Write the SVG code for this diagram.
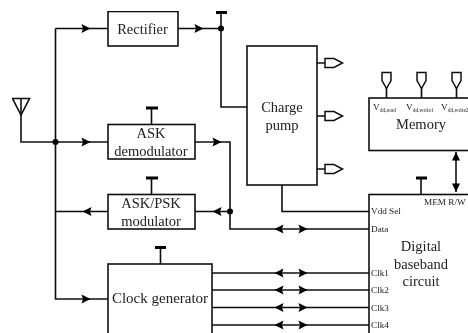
<svg xmlns="http://www.w3.org/2000/svg" width="468" height="333" viewBox="0 0 468 333">
<style>
.b{fill:#fff;stroke:#111;stroke-width:1.6}
.c{fill:none;stroke:#111;stroke-width:1.6}
.cap{fill:none;stroke:#000;stroke-width:2.8}
.t{font-family:"Liberation Serif",serif;font-size:14.500px;fill:#222;text-anchor:middle}
.s{font-family:"Liberation Serif",serif;font-size:9.200px;fill:#222}
.u{font-size:5.500px}
.o{fill:#fff;stroke:#111;stroke-width:1.500}
</style>
<defs>
<filter id="soft" x="0" y="0" width="100%" height="100%"><feGaussianBlur stdDeviation="0.3"/></filter>
<path id="r" d="M-4.500,-4.500 L4.500,0 L-4.500,4.500 L-3,0 Z" fill="#000"/>
<path id="l" d="M4.500,-4.500 L-4.500,0 L4.500,4.500 L3,0 Z" fill="#000"/>
<g id="dbl"><use href="#l" x="279"/><use href="#r" x="303"/></g>
<path id="out" d="M0,0 H8 M8,-4.500 H17 L25.500,0 L17,4.500 H8 Z" class="o"/>
<path id="vin" d="M-4.500,0 H4.500 V8 L0,16 L-4.500,8 Z" class="o"/>
</defs>
<rect width="468" height="333" fill="#fff"/>
<g filter="url(#soft)">
<g id="connectors">
<path class="c" d="M21,98.500 V142 H108 M55.500,28.500 V299 H108 M55.500,28.500 H108 M55.500,211.500 H108"/>
<path class="c" d="M178,28.500 H221 M221,12 V107 H247"/>
<path class="c" d="M195,142 H230 V229 H369 M195,211.500 H230"/>
<path class="c" d="M212,273 H369 M212,290 H369 M212,307.500 H369 M212,325 H369"/>
<path class="c" d="M282,185 V211.500 H369 M456,152 V192"/>
<path class="c" d="M151.500,108 V124.500 M151.500,178 V194.500 M160.500,247.500 V264 M421,178 V194"/>
<path class="cap" d="M216,12.500 H227 M146,108 H158 M146,178 H158 M155,247.500 H166 M416,178 H427"/>
<circle cx="55.500" cy="142" r="3" fill="#000"/>
<circle cx="221" cy="28.500" r="3" fill="#000"/>
<circle cx="230" cy="211.500" r="3" fill="#000"/>
<use href="#r" x="86" y="28.500"/><use href="#r" x="199" y="28.500"/>
<use href="#r" x="86" y="142"/><use href="#r" x="217" y="142"/>
<use href="#l" x="87" y="211.500"/><use href="#l" x="217" y="211.500"/>
<use href="#r" x="86" y="299"/>
<use href="#dbl" y="229"/><use href="#dbl" y="273"/><use href="#dbl" y="290"/><use href="#dbl" y="307.500"/><use href="#dbl" y="325"/>
<path d="M452,160.500 L456,152 L460,160.500 Z" fill="#000"/>
<path d="M452,183.500 L456,192 L460,183.500 Z" fill="#000"/>
<use href="#out" x="317" y="63"/><use href="#out" x="317" y="116"/><use href="#out" x="317" y="169"/>
</g>
<g id="antenna"><path class="c" d="M12.500,98.500 H29.500 L21,115 Z"/></g>
<g id="rectifier"><rect class="b" x="108" y="11.500" width="70" height="34.500"/><text class="t" x="142.500" y="33.500">Rectifier</text></g>
<g id="charge-pump"><rect class="b" x="247" y="46" width="70" height="139"/><text class="t" x="282" y="111.500">Charge</text><text class="t" x="282" y="130">pump</text></g>
<g id="ask-demodulator"><rect class="b" x="108" y="124.500" width="87" height="34.500"/><text class="t" x="151" y="138">ASK</text><text class="t" x="151" y="156">demodulator</text></g>
<g id="ask-psk-modulator"><rect class="b" x="108" y="194.500" width="87" height="34.500"/><text class="t" x="151" y="208">ASK/PSK</text><text class="t" x="151" y="226">modulator</text></g>
<g id="clock-generator"><rect class="b" x="108" y="264" width="104" height="75"/><text class="t" x="160" y="303" style="font-size:15px">Clock generator</text></g>
<g id="memory"><rect class="b" x="369" y="98" width="110" height="52.500"/>
<use href="#vin" x="386.500" y="72.500"/><use href="#vin" x="421.500" y="72.500"/><use href="#vin" x="456.500" y="72.500"/>
<path class="c" d="M386.500,88 V98 M421.500,88 V98 M456.500,88 V98"/>
<text class="s" x="373" y="110">V<tspan class="u" dy="1.500">dd,read</tspan></text>
<text class="s" x="406" y="110">V<tspan class="u" dy="1.500">dd,write1</tspan></text>
<text class="s" x="441" y="110">V<tspan class="u" dy="1.500">dd,write2</tspan></text>
<text class="t" x="421" y="129">Memory</text></g>
<g id="digital-baseband"><rect class="b" x="369" y="194.500" width="110" height="145"/>
<text class="s" x="424" y="205">MEM R/W</text>
<text class="s" x="371" y="214">Vdd Sel</text>
<text class="s" x="371" y="232">Data</text>
<text class="s" x="371" y="276">Clk1</text><text class="s" x="371" y="293">Clk2</text><text class="s" x="371" y="310.500">Clk3</text><text class="s" x="371" y="328">Clk4</text>
<text class="t" x="421" y="251">Digital</text><text class="t" x="421" y="268.500">baseband</text><text class="t" x="421" y="286">circuit</text></g>
</g>
</svg>
